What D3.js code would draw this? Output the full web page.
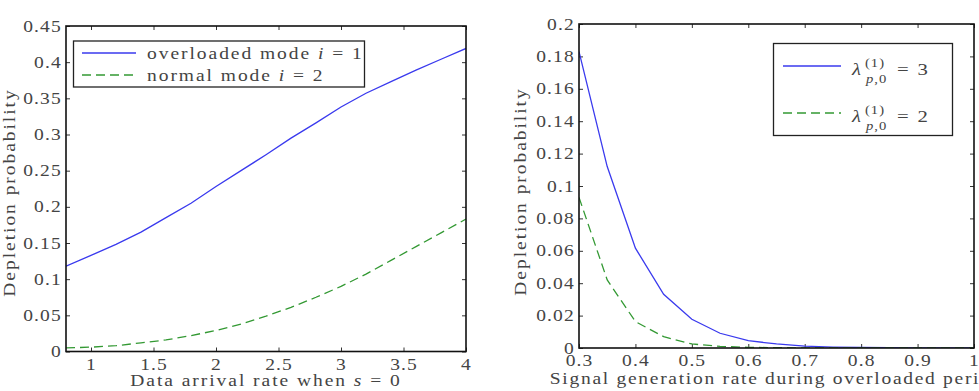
<!DOCTYPE html>
<html><head><meta charset="utf-8">
<script src="https://cdn.jsdelivr.net/npm/d3@7/dist/d3.min.js"></script>
<style>
body{margin:0;background:#fff;}
text{font-family:"Liberation Serif","Times New Roman",serif;fill:#444;}
</style></head>
<body><svg id="c" width="979" height="391"></svg>
<script>
// ---- Left chart data ----
const leftX = [0.8,1.0,1.2,1.4,1.6,1.8,2.0,2.2,2.4,2.6,2.8,3.0,3.2,3.4,3.6,3.8,4.0];
const leftOverloaded = [0.118,0.133,0.148,0.165,0.185,0.205,0.228,0.250,0.272,0.295,0.316,0.338,0.357,0.373,0.389,0.404,0.419];
const leftNormal = [0.005,0.006,0.008,0.012,0.016,0.022,0.029,0.038,0.049,0.061,0.075,0.090,0.107,0.126,0.145,0.164,0.183];
const leftXTicks = [1,1.5,2,2.5,3,3.5,4];
const leftYTicks = [0,0.05,0.1,0.15,0.2,0.25,0.3,0.35,0.4,0.45];
// ---- Right chart data ----
const rightX = [0.3,0.35,0.4,0.45,0.5,0.55,0.6,0.65,0.7,0.75,0.8,0.85,0.9,0.95,1.0];
const rightLam3 = [0.183,0.112,0.0616,0.0332,0.0177,0.0091,0.0045,0.0025,0.0012,0.0006,0.0003,0.0002,0.0001,0.0001,0.0];
const rightLam2 = [0.093,0.042,0.0163,0.007,0.0025,0.001,0.0004,0.0002,0.0001,0.0,0.0,0.0,0.0,0.0,0.0];
const rightXTicks = [0.3,0.4,0.5,0.6,0.7,0.8,0.9,1];
const rightYTicks = [0,0.02,0.04,0.06,0.08,0.1,0.12,0.14,0.16,0.18,0.2];

const svg = d3.select("#c");
const BLUE = "#3a3aee", GREEN = "#339933";
const FS = 16, LS = "1.6px", TLS = "0.9px", SX = 1.22;

function styleText(sel){
  sel.attr("font-size",FS).style("letter-spacing",TLS).attr("fill","#444");
}
function addText(parent,x,y,html,opt={}){
  return parent.append("text")
    .attr("transform",`translate(${x},${y})${opt.rot?" rotate("+opt.rot+")":""} scale(${SX},1)`)
    .attr("text-anchor",opt.anchor||"start")
    .attr("font-size",opt.fs||FS).style("letter-spacing",opt.ls||LS)
    .attr("font-style",opt.italic?"italic":null)
    .html(html);
}

function panel(o){
  const g = svg.append("g");
  const x = d3.scaleLinear().domain(o.xd).range([o.l,o.r]);
  const y = d3.scaleLinear().domain(o.yd).range([o.b,o.t]);
  const tl = 4;
  const fmt = d => String(+d.toFixed(3));
  g.append("g").attr("transform",`translate(0,${o.b})`)
    .call(d3.axisBottom(x).tickValues(o.xt).tickSizeInner(-tl).tickSizeOuter(0).tickPadding(7).tickFormat(fmt))
    .call(a=>{a.select(".domain").remove();a.attr("font-family",null);a.selectAll("text").call(styleText).attr("transform",`scale(${SX},1)`);a.selectAll("line").attr("stroke","#333");});
  g.append("g").attr("transform",`translate(0,${o.t})`)
    .call(d3.axisTop(x).tickValues(o.xt).tickSizeInner(-tl).tickSizeOuter(0).tickFormat(""))
    .call(a=>{a.select(".domain").remove();a.selectAll("line").attr("stroke","#333");});
  g.append("g").attr("transform",`translate(${o.l},0)`)
    .call(d3.axisLeft(y).tickValues(o.yt).tickSizeInner(-tl).tickSizeOuter(0).tickPadding(3.5).tickFormat(fmt))
    .call(a=>{a.select(".domain").remove();a.attr("font-family",null);a.selectAll("text").call(styleText).attr("transform",`scale(${SX},1)`);a.selectAll("line").attr("stroke","#333");});
  g.append("g").attr("transform",`translate(${o.r},0)`)
    .call(d3.axisRight(y).tickValues(o.yt).tickSizeInner(-tl).tickSizeOuter(0).tickFormat(""))
    .call(a=>{a.select(".domain").remove();a.selectAll("line").attr("stroke","#333");});
  const clipId = "clip"+o.id;
  svg.append("clipPath").attr("id",clipId).append("rect").attr("x",o.l).attr("y",o.t).attr("width",o.r-o.l).attr("height",o.b-o.t);
  const line = d3.line().x(d=>x(d[0])).y(d=>y(d[1]));
  o.series.forEach(s=>{
    g.append("path").datum(o.xs.map((v,i)=>[v,s.v[i]]))
      .attr("d",line).attr("fill","none").attr("stroke",s.c).attr("stroke-width",1.3)
      .attr("stroke-dasharray",s.dash||null).attr("clip-path",`url(#${clipId})`);
  });
  g.append("rect").attr("x",o.l).attr("y",o.t).attr("width",o.r-o.l).attr("height",o.b-o.t)
    .attr("fill","none").attr("stroke","#111").attr("stroke-width",1.6);
  addText(g,(o.l+o.r)/2,o.xly,o.xlabel,{anchor:"middle",ls:o.xls});
  addText(g,o.ylx,o.ylc,"Depletion probability",{anchor:"middle",rot:-90});
  return {x,y,g};
}

panel({id:"L",l:66,r:466,t:26,b:351.5,xd:[0.8,4],yd:[0,0.45],xt:leftXTicks,yt:leftYTicks,xs:leftX,
  series:[{v:leftOverloaded,c:BLUE},{v:leftNormal,c:GREEN,dash:"9,5"}],
  xly:386,ylx:15,ylc:192.5,xlabel:'Data arrival rate when <tspan font-style="italic">s</tspan> = 0'});
panel({id:"R",l:579,r:974,t:24,b:348,xd:[0.3,1],yd:[0,0.2],xt:rightXTicks,yt:rightYTicks,xs:rightX,
  series:[{v:rightLam3,c:BLUE},{v:rightLam2,c:GREEN,dash:"9,5"}],
  xly:383.5,ylx:526,ylc:191.5,xls:"1.4px",xlabel:'Signal generation rate during overloaded period'});

// Left legend
const lg = svg.append("g");
lg.append("rect").attr("x",73.5).attr("y",41).attr("width",291).attr("height",46).attr("fill","#fff").attr("stroke","#222").attr("stroke-width",1.3);
[[BLUE,null,53,'overloaded mode <tspan font-style="italic">i</tspan> = 1'],[GREEN,"9,5",75,'normal mode <tspan font-style="italic">i</tspan> = 2']].forEach(e=>{
  lg.append("line").attr("x1",82).attr("x2",136).attr("y1",e[2]).attr("y2",e[2]).attr("stroke",e[0]).attr("stroke-width",1.3).attr("stroke-dasharray",e[1]);
  addText(lg,147,e[2]+5.5,e[3]);
});
// Right legend
const rg = svg.append("g");
rg.append("rect").attr("x",773.5).attr("y",43.5).attr("width",179).attr("height",92).attr("fill","#fff").attr("stroke","#222").attr("stroke-width",1.3);
[[BLUE,null,66,"3"],[GREEN,"9,5",113,"2"]].forEach(e=>{
  rg.append("line").attr("x1",783).attr("x2",841).attr("y1",e[2]).attr("y2",e[2]).attr("stroke",e[0]).attr("stroke-width",1.3).attr("stroke-dasharray",e[1]);
  addText(rg,852,e[2]+8.5,"λ",{fs:17,italic:true,ls:"0px"});
  addText(rg,865,e[2]+1,"(1)",{fs:12,ls:"0.8px"});
  addText(rg,866,e[2]+17,'<tspan font-style="italic">p</tspan>,0',{fs:12,ls:"0.8px"});
  addText(rg,897,e[2]+8.5,"= "+e[3],{fs:17,ls:"1.5px"});
});
</script></body></html>
